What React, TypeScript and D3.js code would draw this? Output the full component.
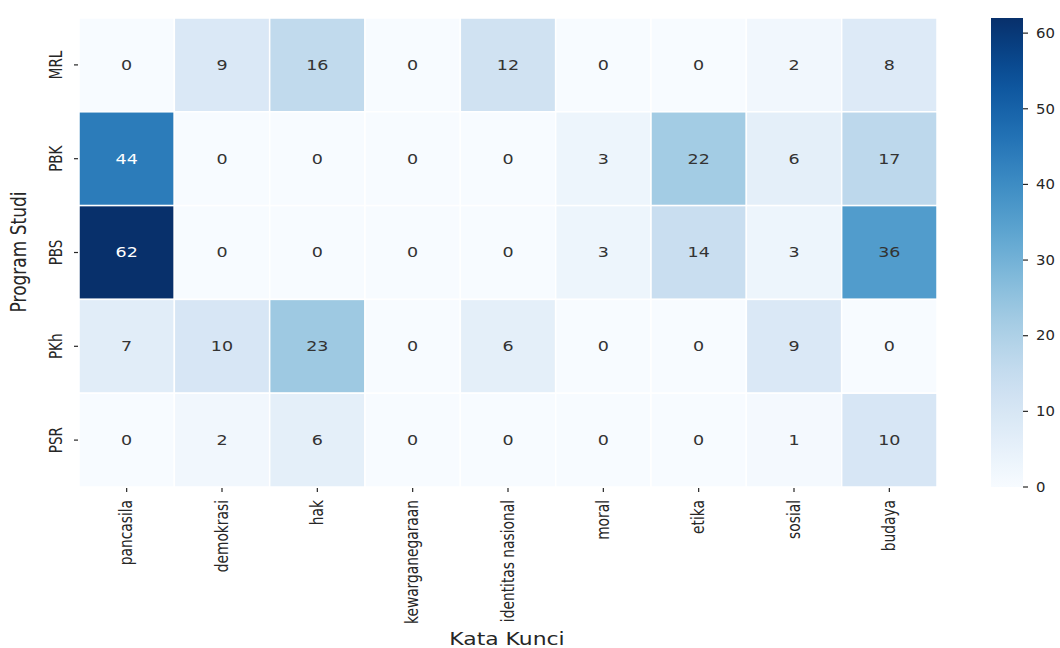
import React, { useRef, useEffect } from 'react';
import * as d3 from 'd3';

const programs = ['MRL', 'PBK', 'PBS', 'PKh', 'PSR'];
const keywords = ['pancasila', 'demokrasi', 'hak', 'kewarganegaraan', 'identitas nasional', 'moral', 'etika', 'sosial', 'budaya'];

const mrl = [0, 9, 16, 0, 12, 0, 0, 2, 8];
const pbk = [44, 0, 0, 0, 0, 3, 22, 6, 17];
const pbs = [62, 0, 0, 0, 0, 3, 14, 3, 36];
const pkh = [7, 10, 23, 0, 6, 0, 0, 9, 0];
const psr = [0, 2, 6, 0, 0, 0, 0, 1, 10];

const colorbarTicks = [0, 10, 20, 30, 40, 50, 60];

interface Cell {
    program: string;
    keyword: string;
    value: number;
}

const App: React.FC = () => {
    const d3Container = useRef<SVGSVGElement | null>(null);

    useEffect(() => {
        if (!d3Container.current) return;
        const W = 1060, H = 648;
        const left = 79, right = 937, top = 18, bottom = 487;
        const sx = 1.25; // picture is stretched horizontally
        const font = 'DejaVu Sans, sans-serif';
        const textColor = '#262626';

        const rows = [mrl, pbk, pbs, pkh, psr];
        const cells: Cell[] = [];
        rows.forEach((r, i) => r.forEach((v, j) => cells.push({ program: programs[i], keyword: keywords[j], value: v })));
        const vmax = d3.max(cells, d => d.value) as number;

        const svg = d3.select(d3Container.current);
        svg.selectAll('*').remove();
        svg.attr('width', W).attr('height', H).style('display', 'block').style('background', '#fff');

        const x = d3.scaleBand().domain(keywords).range([left, right]);
        const y = d3.scaleBand().domain(programs).range([top, bottom]);
        const color = d3.scaleSequential(d3.interpolateBlues).domain([0, vmax]);

        // Cells
        svg.append('g').selectAll('rect')
            .data(cells)
            .join('rect')
            .attr('x', d => x(d.keyword) as number)
            .attr('y', d => y(d.program) as number)
            .attr('width', x.bandwidth())
            .attr('height', y.bandwidth())
            .attr('fill', d => color(d.value))
            .attr('stroke', '#fff')
            .attr('stroke-width', 1.5);

        // Annotations
        svg.append('g').selectAll('text')
            .data(cells)
            .join('text')
            .attr('transform', d => `translate(${(x(d.keyword) as number) + x.bandwidth() / 2},${(y(d.program) as number) + y.bandwidth() / 2}) scale(${sx},1)`)
            .attr('text-anchor', 'middle')
            .attr('dominant-baseline', 'central')
            .attr('font-family', font)
            .attr('font-size', 14)
            .attr('fill', d => {
                const c = d3.rgb(color(d.value));
                const lum = (0.2126 * c.r + 0.7152 * c.g + 0.0722 * c.b) / 255;
                return lum < 0.5 ? '#fff' : '#333';
            })
            .text(d => d.value);

        // Y axis ticks and labels
        const yAxis = svg.append('g');
        yAxis.selectAll('line')
            .data(programs)
            .join('line')
            .attr('x1', left - 5).attr('x2', left - 1)
            .attr('y1', d => (y(d) as number) + y.bandwidth() / 2)
            .attr('y2', d => (y(d) as number) + y.bandwidth() / 2)
            .attr('stroke', textColor).attr('stroke-width', 1.2);
        yAxis.selectAll('text')
            .data(programs)
            .join('text')
            .attr('transform', d => `translate(62,${(y(d) as number) + y.bandwidth() / 2}) scale(${sx},1) rotate(-90)`)
            .attr('text-anchor', 'middle')
            .attr('font-family', font)
            .attr('font-size', 13.5)
            .attr('fill', textColor)
            .text(d => d);

        // X axis ticks and labels
        const xAxis = svg.append('g');
        xAxis.selectAll('line')
            .data(keywords)
            .join('line')
            .attr('x1', d => (x(d) as number) + x.bandwidth() / 2)
            .attr('x2', d => (x(d) as number) + x.bandwidth() / 2)
            .attr('y1', bottom + 1).attr('y2', bottom + 5)
            .attr('stroke', textColor).attr('stroke-width', 1.2);
        xAxis.selectAll('text')
            .data(keywords)
            .join('text')
            .attr('transform', d => `translate(${(x(d) as number) + x.bandwidth() / 2},500) scale(${sx},1) rotate(-90)`)
            .attr('text-anchor', 'end')
            .attr('dominant-baseline', 'central')
            .attr('font-family', font)
            .attr('font-size', 13.8)
            .attr('fill', textColor)
            .text(d => d);

        // Axis titles
        svg.append('text')
            .attr('transform', `translate(${(left + right) / 2 - 1},645) scale(${sx},1)`)
            .attr('text-anchor', 'middle')
            .attr('font-family', font)
            .attr('font-size', 17.5)
            .attr('fill', textColor)
            .text('Kata Kunci');
        svg.append('text')
            .attr('transform', `translate(26,252) scale(${sx},1) rotate(-90)`)
            .attr('text-anchor', 'middle')
            .attr('font-family', font)
            .attr('font-size', 17)
            .attr('fill', textColor)
            .text('Program Studi');

        // Colorbar
        const cbX = 991, cbW = 32;
        const cb = d3.scaleLinear().domain([0, vmax]).range([bottom, top]);
        const defs = svg.append('defs');
        const grad = defs.append('linearGradient')
            .attr('id', 'cbgrad')
            .attr('x1', 0).attr('y1', 1).attr('x2', 0).attr('y2', 0);
        d3.range(0, 1.0001, 0.05).forEach(t => {
            grad.append('stop').attr('offset', t).attr('stop-color', color(t * vmax));
        });
        svg.append('rect')
            .attr('x', cbX).attr('y', top)
            .attr('width', cbW).attr('height', bottom - top)
            .attr('fill', 'url(#cbgrad)');
        const cbAxis = svg.append('g');
        cbAxis.selectAll('line')
            .data(colorbarTicks)
            .join('line')
            .attr('x1', cbX + cbW).attr('x2', cbX + cbW + 5)
            .attr('y1', d => cb(d)).attr('y2', d => cb(d))
            .attr('stroke', textColor).attr('stroke-width', 1.2);
        cbAxis.selectAll('text')
            .data(colorbarTicks)
            .join('text')
            .attr('transform', d => `translate(${cbX + cbW + 13},${cb(d)}) scale(1.1,1)`)
            .attr('dominant-baseline', 'central')
            .attr('font-family', font)
            .attr('font-size', 13.5)
            .attr('fill', textColor)
            .text(d => d);
    }, []);

    return (
        <div style={{ position: 'fixed', left: 0, top: 0 }}>
            <svg ref={d3Container} />
        </div>
    );
};

export default App;
